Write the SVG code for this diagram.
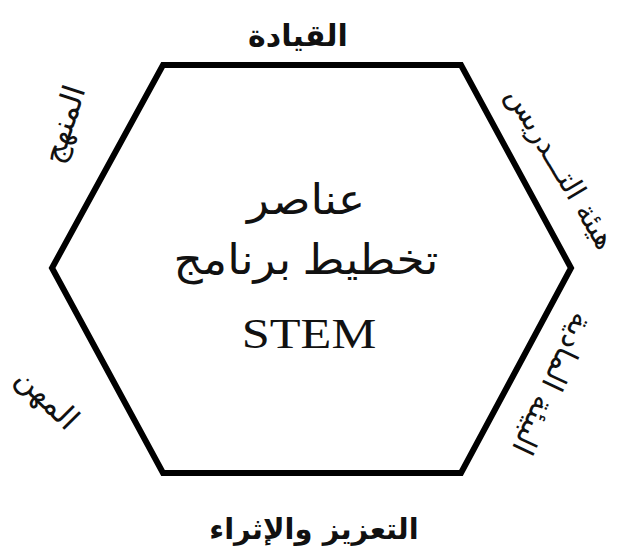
<svg xmlns="http://www.w3.org/2000/svg" width="623" height="556" viewBox="0 0 623 556">
<style>
.lbl{font-family:"DejaVu Sans",sans-serif;font-size:29px;fill:#111;text-anchor:middle}
.b{font-weight:bold}
.rot{dominant-baseline:central;font-size:29px}
.ctr{font-family:"Liberation Serif","DejaVu Sans",serif;font-size:42px;fill:#111;text-anchor:middle}
.hex{fill:#fff;stroke:#000;stroke-width:6;stroke-linejoin:miter}
</style>
<rect width="623" height="556" fill="#fff"/>
<g id="connectors"></g>
<g id="hexagon">
<polygon class="hex" points="163,65 461,65 571,268 461,473 163,473 52,268"/>
<g transform="translate(306,0) scale(1.08,1)">
<text class="ctr" x="0" y="214" direction="rtl">عناصر</text>
<text class="ctr" x="0" y="274" direction="rtl">تخطيط برنامج</text>
</g>
<g transform="translate(309,0) scale(1.2,1)">
<text class="ctr" x="0" y="348" style="font-size:42px">STEM</text>
</g>
</g>
<g id="label-top"><text class="lbl b" x="298" y="46" direction="rtl" style="font-size:30px">القيادة</text></g>
<g id="label-bottom"><text class="lbl b" x="314" y="539" direction="rtl">التعزيز والإثراء</text></g>
<g id="label-topleft"><text class="lbl rot" transform="translate(63,124) rotate(-72)" direction="rtl" style="font-size:31px">المنهج</text></g>
<g id="label-topright"><text class="lbl rot" transform="translate(561,168) rotate(59)" direction="rtl" style="font-size:29px">هيئة التـــدريس</text></g>
<g id="label-bottomright"><text class="lbl rot" transform="translate(553,384) rotate(115)" direction="rtl" style="font-size:30px">البيئة المادية</text></g>
<g id="label-bottomleft"><text class="lbl rot" transform="translate(48,398) rotate(45)" direction="rtl" style="font-size:31px">المهن</text></g>
</svg>
